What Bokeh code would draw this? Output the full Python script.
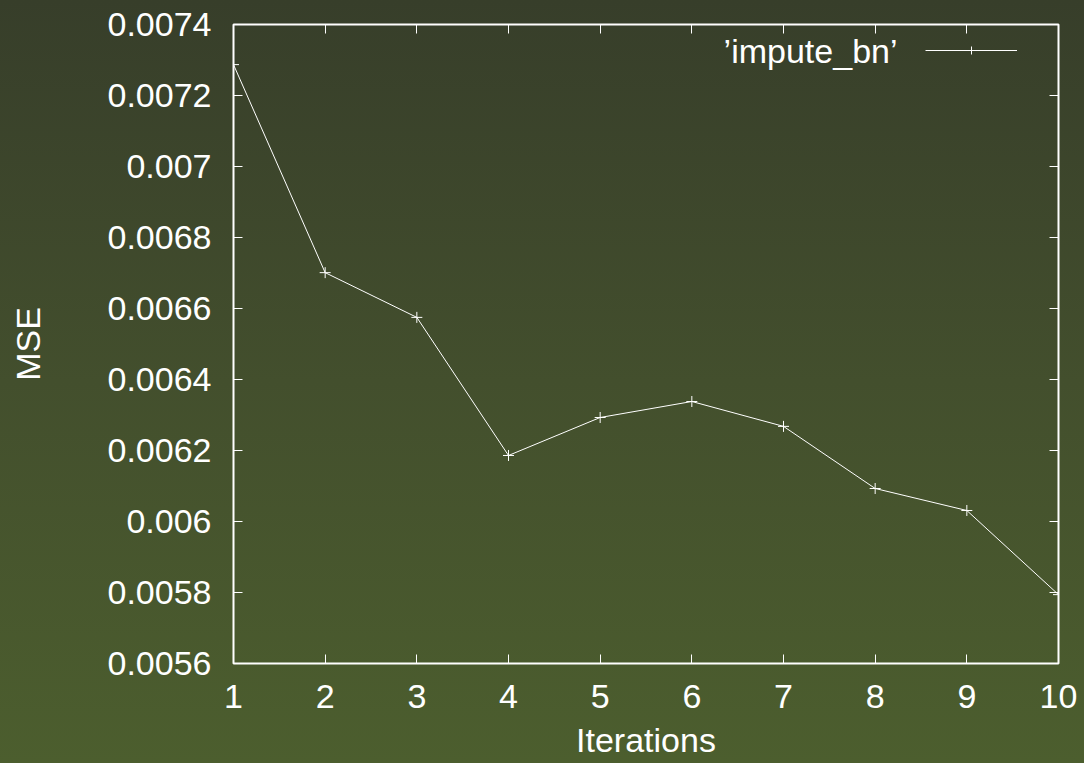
from bokeh.plotting import figure
from bokeh.models import (FixedTicker, CustomJSTickFormatter, LinearAxis, Legend,
                          LegendItem, Label, GlobalInlineStyleSheet, Range1d)
from bokeh.embed import file_html
from bokeh.resources import INLINE

iterations = [1, 2, 3, 4, 5, 6, 7, 8, 9, 10]
mse = [0.007287, 0.006701, 0.006575, 0.006186, 0.006293,
       0.006338, 0.006268, 0.006093, 0.006031, 0.005794]
x_ticks = [1, 2, 3, 4, 5, 6, 7, 8, 9, 10]
y_ticks = [0.0056, 0.0058, 0.006, 0.0062, 0.0064, 0.0066, 0.0068, 0.007, 0.0072, 0.0074]
series_name = "\u2019impute_bn\u2019"
x_title = "Iterations"
y_title = "MSE"

FONT = "Liberation Sans"
FS = "34px"
W, H = 1082, 762

p = figure(width=W, height=H, output_backend="svg", toolbar_location=None,
           x_range=Range1d(1, 10), y_range=Range1d(0.0056, 0.0074),
           min_border_left=233, min_border_right=W - 1058, min_border_top=24,
           min_border_bottom=H - 663)

p.border_fill_alpha = 0
p.background_fill_alpha = 0
p.outline_line_color = "white"
p.outline_line_width = 2
p.grid.visible = False

p.stylesheets = [GlobalInlineStyleSheet(css="""
html { height: 100%; background: linear-gradient(to bottom, #373e2a 0%, #434f2d 50%, #4c5e2e 100%); }
body { background: transparent; }
""")]

fmt = CustomJSTickFormatter(code="return String(parseFloat(tick.toFixed(4)));")

def style_axis(ax, show_labels=True):
    ax.axis_line_color = None
    ax.major_tick_in = 9
    ax.major_tick_out = 0
    ax.major_tick_line_color = "white"
    ax.major_tick_line_width = 1
    ax.minor_tick_line_color = None
    ax.major_label_text_color = "white"
    ax.major_label_text_font = FONT
    ax.major_label_text_font_size = FS if show_labels else "0px"
    ax.axis_label_text_color = "white"
    ax.axis_label_text_font = FONT
    ax.axis_label_text_font_size = FS
    ax.axis_label_text_font_style = "normal"

xa = p.xaxis[0]
xa.ticker = FixedTicker(ticks=x_ticks)
xa.axis_label = x_title
style_axis(xa)
xa.major_label_standoff = 21
xa.axis_label_standoff = 10

ya = p.yaxis[0]
ya.ticker = FixedTicker(ticks=y_ticks)
ya.formatter = fmt
ya.axis_label = y_title
style_axis(ya)
ya.major_label_standoff = 22
ya.axis_label_standoff = 58

top = LinearAxis(ticker=FixedTicker(ticks=x_ticks))
style_axis(top, False)
top.major_label_text_alpha = 0
p.add_layout(top, "above")

right = LinearAxis(ticker=FixedTicker(ticks=y_ticks))
style_axis(right, False)
right.major_label_text_alpha = 0
p.add_layout(right, "right")

ln = p.line(iterations, mse, line_color="white", line_width=1)
sc = p.scatter(iterations, mse, marker="cross", size=11, line_color="white", line_width=1)

legend = Legend(items=[LegendItem(label=" ", renderers=[ln, sc])],
                location=(692, 603), glyph_width=92, glyph_height=20,
                label_width=0, label_standoff=0, padding=0, margin=0,
                border_line_color=None, background_fill_alpha=0,
                label_text_font_size="1px")
p.add_layout(legend, "center")

lab = Label(x=664, y=613, x_units="screen", y_units="screen",
            text=series_name, text_color="white", text_font=FONT,
            text_font_size=FS, text_align="right", text_baseline="middle")
p.add_layout(lab)

open("out.html", "w").write(file_html(p, INLINE))
